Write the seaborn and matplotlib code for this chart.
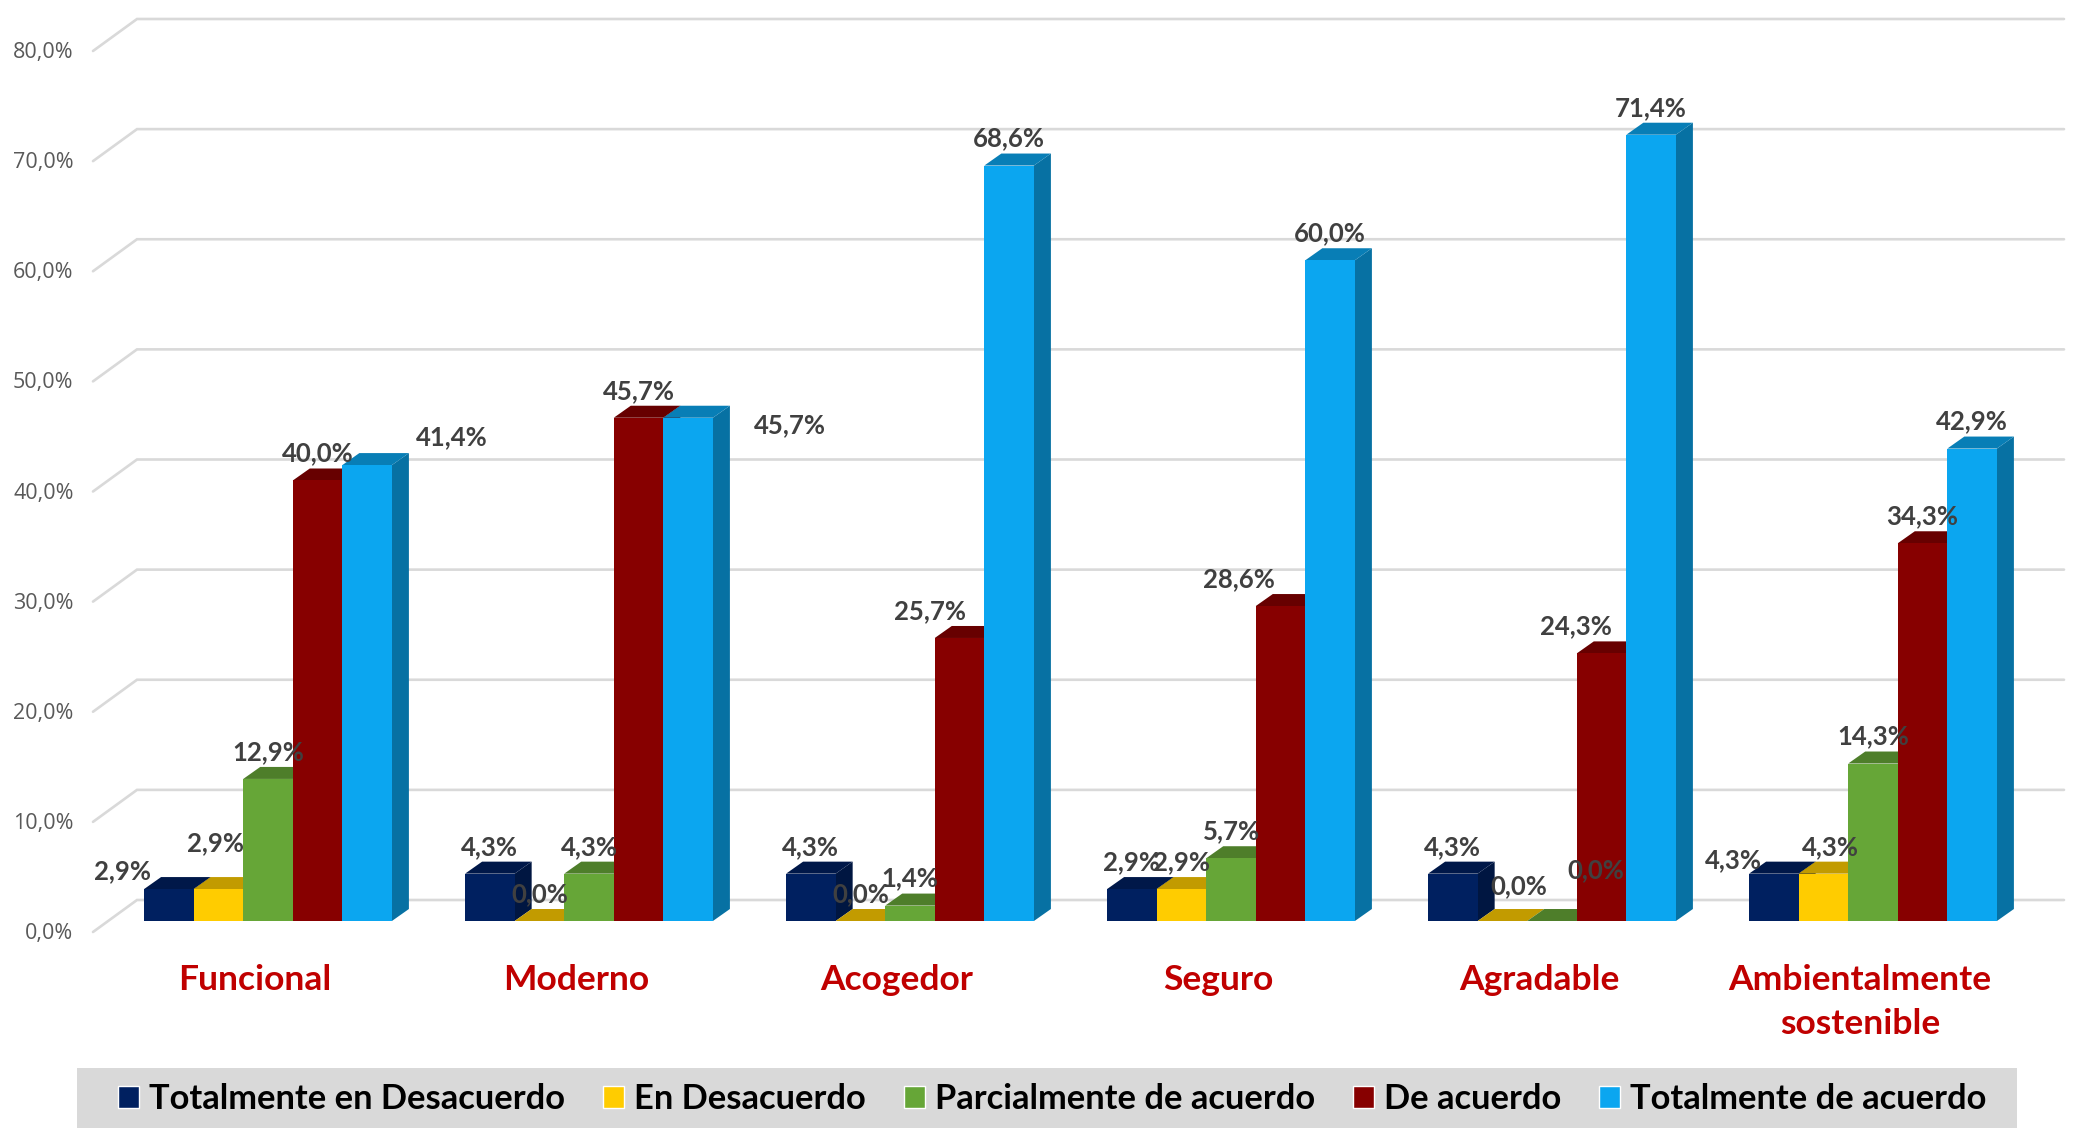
import numpy as np
import pandas as pd
import matplotlib
matplotlib.use("Agg")
import matplotlib.pyplot as plt
import seaborn as sns
from matplotlib.patches import Polygon, Rectangle
from matplotlib.colors import to_rgb
from matplotlib.transforms import ScaledTranslation

categories = ["Funcional", "Moderno", "Acogedor", "Seguro", "Agradable",
              "Ambientalmente\nsostenible"]
series_names = ["Totalmente en Desacuerdo", "En Desacuerdo", "Parcialmente de acuerdo",
                "De acuerdo", "Totalmente de acuerdo"]
totalmente_desacuerdo = [2.9, 4.3, 4.3, 2.9, 4.3, 4.3]
en_desacuerdo = [2.9, 0.0, 0.0, 2.9, 0.0, 4.3]
parcialmente = [12.9, 4.3, 1.4, 5.7, 0.0, 14.3]
de_acuerdo = [40.0, 45.7, 25.7, 28.6, 24.3, 34.3]
totalmente_acuerdo = [41.4, 45.7, 68.6, 60.0, 71.4, 42.9]
y_ticks = [0, 10, 20, 30, 40, 50, 60, 70, 80]

colors = ["#002060", "#FFCC00", "#66A637", "#870000", "#0BA6F0"]

# label shifts in pixels relative to the default spot above each bar (x, y)
label_shift = [
    [(-46, -9), (-3, 19), (0, 0), (0, 0), (85, 1)],
    [(0, 0), (0, 0), (0, 0), (0, 0), (102, -34)],
    [(0, 0), (0, 0), (0, 0), (-30, 0), (0, 0)],
    [(0, 0), (0, 0), (0, 0), (-42, 0), (0, 0)],
    [(0, 0), (16, 8), (44, 24), (-26, 0), (0, 0)],
    [(-40, -13), (7, 0), (0, 0), (0, 0), (0, 0)],
]

W, H, DPI = 2075, 1128, 100
FONT = ["Lato", "DejaVu Sans"]
series_values = [totalmente_desacuerdo, en_desacuerdo, parcialmente, de_acuerdo, totalmente_acuerdo]
df = pd.DataFrame({
    "cat": np.tile(categories, len(series_names)),
    "serie": np.repeat(series_names, len(categories)),
    "value": np.concatenate(series_values),
})

sns.set_theme(style="white")
plt.rcParams["font.family"] = FONT
fig = plt.figure(figsize=(W / DPI, H / DPI), dpi=DPI, facecolor="white")
AX_L, AX_R, AX_B, AX_T = 93, 2064, 921, 40
ax = fig.add_axes([AX_L / W, 1 - AX_B / H, (AX_R - AX_L) / W, (AX_B - AX_T) / H])

GROUP0, GROUP_STEP = 268.0, 321.0
sns.barplot(data=df, x="cat", y="value", hue="serie", order=categories, hue_order=series_names,
            palette=colors, saturation=1, width=0.772, gap=0, ax=ax, legend=True)
ax.set_xlim((AX_L - GROUP0) / GROUP_STEP, (AX_R - GROUP0) / GROUP_STEP)
ax.set_ylim(0, 80)
for s in ax.spines.values():
    s.set_visible(False)
ax.set_xlabel("")
ax.set_ylabel("")
ax.set_facecolor("none")

px_y = (AX_B - AX_T) / 80.0
DX, DY = 17 / GROUP_STEP, 12 / px_y


def shade(c, f):
    return tuple(v * f for v in to_rgb(c))


# back wall grid with its slanted return on the left
wall_dx, wall_dy = 44 / GROUP_STEP, 32 / px_y
x_left = ax.get_xlim()[0]
x_right = ax.get_xlim()[1]
for t in y_ticks:
    y_front = t - 11 / px_y
    ax.plot([x_left, x_left + wall_dx, x_right], [y_front, y_front + wall_dy, y_front + wall_dy],
            color="#D9D9D9", lw=1.9, zorder=1, clip_on=False, solid_joinstyle="miter")

# 3D faces for every bar
for h_i, cont in enumerate(ax.containers):
    base_z = 3 + h_i * 0.1
    for bar in cont:
        x0, w, v = bar.get_x(), bar.get_width(), bar.get_height()
        bar.set_zorder(base_z + 0.05)
        bar.set_edgecolor("none")
        top = [(x0, v), (x0 + w, v), (x0 + w + DX, v + DY), (x0 + DX, v + DY)]
        side = [(x0 + w, 0), (x0 + w + DX, DY), (x0 + w + DX, v + DY), (x0 + w, v)]
        ax.add_patch(Polygon(side, closed=True, fc=shade(colors[h_i], 0.68), ec="none",
                             zorder=base_z, clip_on=False))
        ax.add_patch(Polygon(top, closed=True, fc=shade(colors[h_i], 0.76), ec="none",
                             zorder=base_z + 0.02, clip_on=False))

# data labels
for h_i, cont in enumerate(ax.containers):
    for c_i, bar in enumerate(cont):
        sx, sy = label_shift[c_i][h_i]
        val = series_values[h_i][c_i]
        ax.annotate(f"{val:.1f}".replace(".", ",") + "%",
                    xy=(bar.get_x() + bar.get_width() / 2, bar.get_height()),
                    xytext=(sx, 27 + sy), textcoords="offset pixels",
                    ha="center", va="center", fontsize=18.5, fontweight="bold",
                    color="#404040", zorder=10, annotation_clip=False)

# axes text
ax.set_yticks(y_ticks)
ax.set_yticklabels([f"{t},0%" for t in y_ticks], fontsize=15.5, color="#595959",
                   family=["Open Sans", "DejaVu Sans"])
ax.tick_params(axis="y", length=0, pad=14)
for lab in ax.get_yticklabels():
    lab.set_transform(lab.get_transform() + ScaledTranslation(0, -10 / DPI, fig.dpi_scale_trans))

ax.set_xticks(range(len(categories)))
ax.set_xticklabels(categories, fontsize=25.5, fontweight="bold", color="#C00000", linespacing=1.45)
ax.tick_params(axis="x", length=0, pad=31)
for lab in ax.get_xticklabels():
    lab.set_transform(lab.get_transform() + ScaledTranslation(-13 / DPI, 0, fig.dpi_scale_trans))

# legend band
fig.add_artist(Rectangle((77 / W, 0), 1940 / W, 60 / H, transform=fig.transFigure,
                         fc="#D9D9D9", ec="none", zorder=0))
handles, labels = ax.get_legend_handles_labels()
ax.legend(handles, labels, ncol=5, loc="center", bbox_to_anchor=((116 + 1989) / 2 / W, 29 / H),
          bbox_transform=fig.transFigure, frameon=False,
          prop={"family": FONT, "weight": "bold", "size": 24.8},
          handlelength=0.6, handleheight=0.6, handletextpad=0.3, columnspacing=1.1,
          borderpad=0, borderaxespad=0, labelcolor="#000000")

fig.savefig("out.png", dpi=DPI, facecolor="white")
